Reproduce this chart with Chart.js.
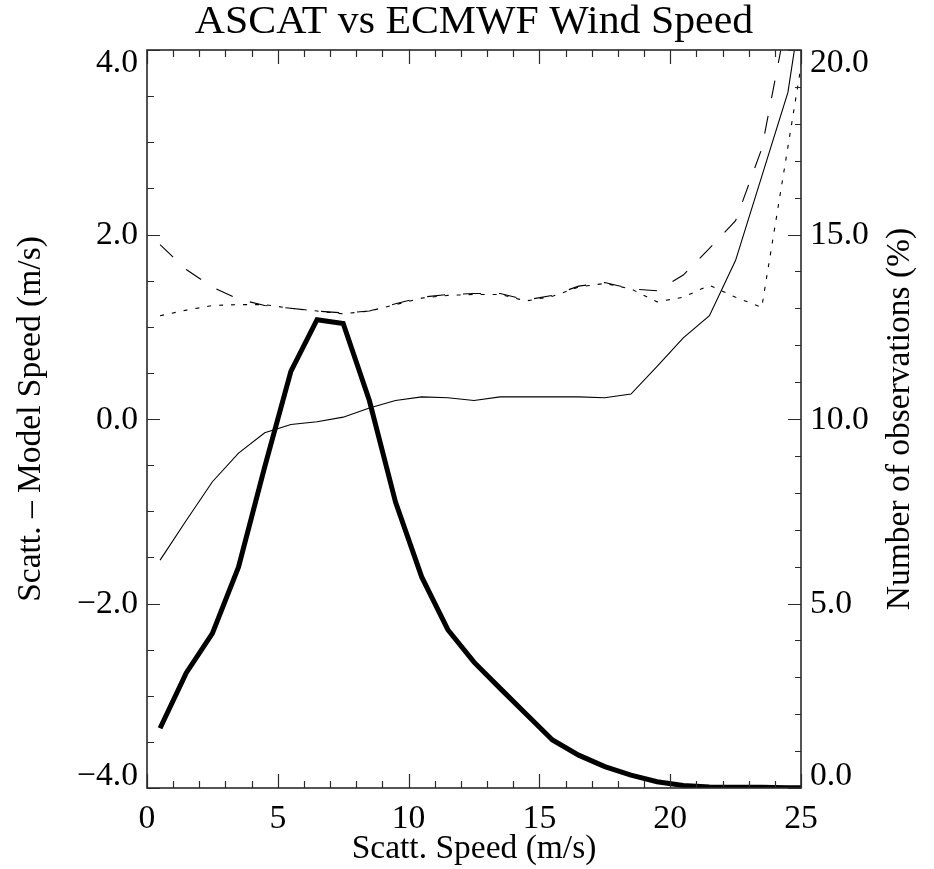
<!DOCTYPE html>
<html>
<head>
<meta charset="utf-8">
<script src="https://cdn.jsdelivr.net/npm/chart.js@4/dist/chart.umd.min.js"></script>
<style>
  html, body { margin: 0; padding: 0; background: #fff; }
  #wrap { width: 934px; height: 869px; }
</style>
</head>
<body>
<div id="wrap"><canvas id="c" width="934" height="869"></canvas></div>
<script>
// Wind speed bins (m/s, bin centres)
const speedBins = [0.5, 1.5, 2.5, 3.5, 4.5, 5.5, 6.5, 7.5, 8.5, 9.5, 10.5, 11.5, 12.5,
                   13.5, 14.5, 15.5, 16.5, 17.5, 18.5, 19.5, 20.5, 21.5, 22.5, 23.5, 24.5, 25.5];

// Mean scatterometer minus model speed (m/s)
const meanDiff = [-1.53, -1.10, -0.68, -0.37, -0.15, -0.06, -0.03, 0.02, 0.12, 0.20, 0.24, 0.23, 0.20,
                  0.24, 0.24, 0.24, 0.24, 0.23, 0.27, 0.57, 0.88, 1.12, 1.72, 2.63, 3.54, 5.40];

// Standard deviation, dashed curve (m/s)
const stdDevA = [1.89, 1.62, 1.43, 1.30, 1.23, 1.20, 1.17, 1.15, 1.17, 1.25, 1.32, 1.35, 1.36,
                 1.36, 1.29, 1.34, 1.44, 1.48, 1.41, 1.39, 1.56, 1.85, 2.15, 2.93, 4.40, 6.50];

// Standard deviation, dotted curve (m/s)
const stdDevB = [1.12, 1.18, 1.23, 1.24, 1.24, 1.20, 1.17, 1.14, 1.17, 1.24, 1.31, 1.34, 1.35,
                 1.35, 1.28, 1.33, 1.43, 1.47, 1.41, 1.27, 1.32, 1.45, 1.32, 1.21, 2.95, 4.70];

// Share of observations per bin (%)
const obsPercent = [1.62, 3.12, 4.19, 5.99, 8.70, 11.29, 12.69, 12.59, 10.50, 7.75, 5.72, 4.29, 3.41,
                    2.70, 2.00, 1.30, 0.89, 0.58, 0.35, 0.17, 0.07, 0.03, 0.02, 0.02, 0.01, 0.00];

// Axis tick values
const xTicks = [0, 5, 10, 15, 20, 25];
const leftTicks = [-4, -2, 0, 2, 4];
const rightTicks = [0, 5, 10, 15, 20];

const FONT = '"Liberation Serif", "Times New Roman", serif';
const INK = '#000';
const AXIS = '#2a2a2a';

function pts(ys) { return speedBins.map((x, i) => ({ x, y: ys[i] })); }
function fmt(v) { return (v < 0 ? '\u2212' : '') + Math.abs(v).toFixed(1); }

function drawText(ctx, str, x, y, o) {
  ctx.save();
  ctx.translate(x, y);
  if (o.rot) ctx.rotate(o.rot);
  ctx.scale(o.sx || 1, 1);
  ctx.font = o.size + 'px ' + FONT;
  ctx.fillStyle = INK;
  ctx.textAlign = o.align || 'center';
  ctx.textBaseline = o.baseline || 'middle';
  ctx.fillText(str, 0, 0);
  ctx.restore();
}

// Box frame with inward ticks plus all labels
const frame = {
  id: 'frame',
  afterDatasetsDraw(chart) {
    const { ctx, chartArea: a, scales } = chart;
    const sx = scales.x, yl = scales.yL, yr = scales.yR;
    ctx.save();
    ctx.strokeStyle = AXIS;
    ctx.lineWidth = 1.6;
    ctx.strokeRect(a.left, a.top, a.right - a.left, a.bottom - a.top);

    ctx.lineWidth = 1.2;
    ctx.beginPath();
    for (let v = 0; v <= 25; v++) {
      const px = Math.round(sx.getPixelForValue(v)) + 0.5;
      const len = v % 5 === 0 ? 14 : 7;
      ctx.moveTo(px, a.bottom); ctx.lineTo(px, a.bottom - len);
      ctx.moveTo(px, a.top); ctx.lineTo(px, a.top + len);
    }
    for (let k = 0; k <= 16; k++) {
      const v = -4 + k * 0.5;
      const py = Math.round(yl.getPixelForValue(v)) + 0.5;
      const len = k % 4 === 0 ? 13 : 7;
      ctx.moveTo(a.left, py); ctx.lineTo(a.left + len, py);
    }
    for (let v = 0; v <= 20; v++) {
      const py = Math.round(yr.getPixelForValue(v)) + 0.5;
      const len = v % 5 === 0 ? 13 : 6;
      ctx.moveTo(a.right, py); ctx.lineTo(a.right - len, py);
    }
    ctx.stroke();
    ctx.restore();

    const TICK = 33, TSX = 1.02;
    const clampY = (py) => Math.min(Math.max(py + 1, a.top + 13), a.bottom - 12);

    xTicks.forEach(v => drawText(ctx, String(v), sx.getPixelForValue(v), 819, { size: TICK, sx: TSX }));
    leftTicks.forEach(v => drawText(ctx, fmt(v), a.left - 9, clampY(yl.getPixelForValue(v)), { size: TICK, sx: TSX, align: 'right' }));
    rightTicks.forEach(v => drawText(ctx, fmt(v), a.right + 9, clampY(yr.getPixelForValue(v)), { size: TICK, sx: TSX, align: 'left' }));

    const midX = (a.left + a.right) / 2, midY = (a.top + a.bottom) / 2;
    drawText(ctx, 'ASCAT vs ECMWF Wind Speed', midX, 22, { size: 41, sx: 1.02 });
    drawText(ctx, 'Scatt. Speed (m/s)', midX, 849, { size: 33.5 });
    drawText(ctx, 'Scatt. \u2013 Model Speed (m/s)', 31, midY, { size: 33.5, rot: -Math.PI / 2 });
    drawText(ctx, 'Number of observations (%)', 900, midY, { size: 33.5, rot: -Math.PI / 2 });
  }
};

const base = { pointRadius: 0, borderColor: INK, tension: 0, fill: false, borderJoinStyle: 'miter' };

new Chart(document.getElementById('c'), {
  type: 'line',
  data: {
    datasets: [
      Object.assign({ label: 'Observations', data: pts(obsPercent), yAxisID: 'yR', borderWidth: 5 }, base),
      Object.assign({ label: 'Mean difference', data: pts(meanDiff), yAxisID: 'yL', borderWidth: 1.1 }, base),
      Object.assign({ label: 'Std. dev. A', data: pts(stdDevA), yAxisID: 'yL', borderWidth: 1.1, borderDash: [18, 18] }, base),
      Object.assign({ label: 'Std. dev. B', data: pts(stdDevB), yAxisID: 'yL', borderWidth: 1.1, borderDash: [4, 8] }, base)
    ]
  },
  options: {
    responsive: false,
    animation: false,
    events: [],
    layout: { padding: { top: 50, left: 0, right: 0, bottom: 0 } },
    plugins: { legend: { display: false }, tooltip: { enabled: false }, title: { display: false } },
    scales: {
      x: {
        type: 'linear', min: 0, max: 25, position: 'bottom',
        ticks: { display: false }, grid: { display: false }, border: { display: false },
        afterFit(s) { s.height = 81; }
      },
      yL: {
        type: 'linear', min: -4, max: 4, position: 'left',
        ticks: { display: false }, grid: { display: false }, border: { display: false },
        afterFit(s) { s.width = 147; }
      },
      yR: {
        type: 'linear', min: 0, max: 20, position: 'right',
        ticks: { display: false }, grid: { display: false }, border: { display: false },
        afterFit(s) { s.width = 133; }
      }
    }
  },
  plugins: [frame]
});
</script>
</body>
</html>
